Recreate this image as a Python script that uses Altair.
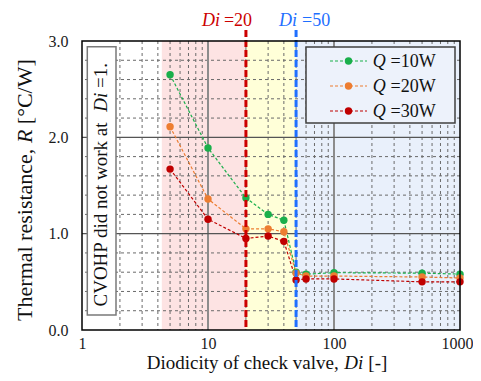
import altair as alt
import pandas as pd

# ---------------- data ----------------
di = [5, 10, 20, 30, 40, 50, 60, 100, 500, 1000]
r_q10 = [2.65, 1.89, 1.37, 1.20, 1.14, 0.60, 0.58, 0.595, 0.59, 0.58]
r_q20 = [2.11, 1.36, 1.05, 1.05, 1.02, 0.59, 0.56, 0.56, 0.55, 0.54]
r_q30 = [1.67, 1.15, 0.95, 0.975, 0.92, 0.52, 0.53, 0.53, 0.50, 0.50]
series_names = ["Q =10W", "Q =20W", "Q =30W"]
series_colors = ["#1aaf4b", "#ed7d31", "#c00000"]

region_start = [4.3, 20, 50]
region_end = [20, 50, 1000]
region_colors = ["#fde3e3", "#ffffd8", "#e9f0fb"]

marker_di = [20, 50]
marker_colors = ["#cc0000", "#1f6fff"]

x_ticks = [1, 10, 100, 1000]
y_ticks = [0, 1, 2, 3]
x_minor = [2, 3, 4, 5, 6, 7, 8, 9, 20, 30, 40, 50, 60, 70, 80, 90,
           200, 300, 400, 500, 600, 700, 800, 900]
x_major = [10, 100]
y_minor = [0.2, 0.4, 0.6, 0.8, 1.2, 1.4, 1.6, 1.8, 2.2, 2.4, 2.6, 2.8]
y_major = [1.0, 2.0]

# ---------------- setup ----------------
W, H = 378, 289
FONT = "Liberation Serif"
xscale = alt.Scale(type="log", domain=[1, 1000])
yscale = alt.Scale(domain=[0, 3])
x_axis = alt.Axis(values=x_ticks, format="d", grid=False, ticks=False, domain=False,
                  labelFont=FONT, labelFontSize=16, labelColor="#1a1a1a",
                  labelPadding=5, title=None, labelFlush=False, labelOverlap=False,
                  labelAlign={"condition": {"test": "datum.value >= 1000", "value": "right"},
                              "value": "center"},
                  labelOffset={"condition": {"test": "datum.value >= 1000", "value": 13},
                               "value": 0})
y_axis = alt.Axis(values=y_ticks, format=".1f", grid=False, ticks=False, domain=False,
                  labelFont=FONT, labelFontSize=16, labelColor="#1a1a1a",
                  labelPadding=14, title=None)

rows = []
for name, vals in zip(series_names, [r_q10, r_q20, r_q30]):
    for d, r in zip(di, vals):
        rows.append({"Di": d, "R": r, "series": name})
df = pd.DataFrame(rows)

regions = pd.DataFrame({"start": region_start, "end": region_end, "color": region_colors})
one = pd.DataFrame({"a": [0]})

color_enc = alt.Color("series:N", scale=alt.Scale(domain=series_names, range=series_colors), legend=None)


def X(field):
    return alt.X(field, scale=xscale, axis=x_axis)


def Y(field):
    return alt.Y(field, scale=yscale, axis=y_axis)


layers = []

# shaded regions
layers.append(
    alt.Chart(regions).mark_rect().encode(
        x=X("start:Q"), x2="end:Q",
        y=alt.Y(datum=0, scale=yscale, axis=y_axis), y2=alt.Y2(datum=3),
        fill=alt.Color("color:N", scale=None),
    )
)

# grid
layers.append(alt.Chart(pd.DataFrame({"x": x_minor})).mark_rule(
    strokeDash=[3, 3], color="#6a6a6a", strokeWidth=1).encode(x=X("x:Q")))
layers.append(alt.Chart(pd.DataFrame({"y": y_minor})).mark_rule(
    strokeDash=[3, 3], color="#6a6a6a", strokeWidth=1).encode(y=Y("y:Q")))
layers.append(alt.Chart(pd.DataFrame({"x": x_major})).mark_rule(
    color="#8c8c8c", strokeWidth=2).encode(x=X("x:Q")))
layers.append(alt.Chart(pd.DataFrame({"y": y_major})).mark_rule(
    color="#555555", strokeWidth=1.2).encode(y=Y("y:Q")))

# annotation box
layers.append(alt.Chart(one).mark_rect(fill="white", stroke="#7a7a7a", strokeWidth=1.5).encode(
    x=alt.value(5.3), x2=alt.value(34), y=alt.value(5.7), y2=alt.value(274)))
box_text = [("CVOHP did not work at", "normal", 265.5), ("Di", "italic", 70.7), ("=1.", "normal", 47)]
for t, style, yy in box_text:
    layers.append(alt.Chart(one).mark_text(
        font=FONT, fontSize=19, fontStyle=style, angle=270, align="left",
        baseline="alphabetic", color="#111111").encode(
        x=alt.value(24.5), y=alt.value(yy), text=alt.value(t)))

# data lines + points
layers.append(alt.Chart(df).mark_line(strokeDash=[3, 2], strokeWidth=1.2).encode(
    x=X("Di:Q"), y=Y("R:Q"), color=color_enc, detail="series:N"))
layers.append(alt.Chart(df).mark_circle(size=55, opacity=1).encode(
    x=X("Di:Q"), y=Y("R:Q"), color=color_enc))

# vertical marker lines and their labels
marker_dx = [(-26, -22), (1, 6)]
for d, c, (dx1, dx2) in zip(marker_di, marker_colors, marker_dx):
    mdf = pd.DataFrame({"x": [d]})
    layers.append(alt.Chart(mdf).mark_rule(strokeWidth=3, strokeDash=[7, 3], color=c).encode(
        x=X("x:Q"), y=alt.value(-11), y2=alt.value(H)))
    layers.append(alt.Chart(mdf).mark_text(font=FONT, fontSize=18, fontStyle="italic", align="right",
                                           baseline="alphabetic", color=c, dx=dx1).encode(
        x=X("x:Q"), y=alt.value(-15), text=alt.value("Di")))
    layers.append(alt.Chart(mdf).mark_text(font=FONT, fontSize=18, align="left",
                                           baseline="alphabetic", color=c, dx=dx2).encode(
        x=X("x:Q"), y=alt.value(-15), text=alt.value("=" + str(d))))

# legend
layers.append(alt.Chart(one).mark_rect(fill="#edf2fb", stroke="#404040", strokeWidth=1.5).encode(
    x=alt.value(224), x2=alt.value(373), y=alt.value(6), y2=alt.value(82)))
for i, (name, c) in enumerate(zip(series_names, series_colors)):
    ldf = pd.DataFrame({"series": [name]})
    yy = 20 + 25 * i
    q, rest = name.split(" ")
    layers.append(alt.Chart(ldf).mark_rule(strokeDash=[3, 2], strokeWidth=1.2, color=c).encode(
        x=alt.value(248), x2=alt.value(285), y=alt.value(yy)))
    layers.append(alt.Chart(ldf).mark_circle(size=55, opacity=1, color=c).encode(
        x=alt.value(266.5), y=alt.value(yy)))
    layers.append(alt.Chart(ldf).mark_text(font=FONT, fontSize=18, fontStyle="italic", align="left",
                                           baseline="middle", dy=1, color="#111111").encode(
        x=alt.value(290.7), y=alt.value(yy), text=alt.value(q)))
    layers.append(alt.Chart(ldf).mark_text(font=FONT, fontSize=18, align="left",
                                           baseline="middle", dy=1, color="#111111").encode(
        x=alt.value(308.5), y=alt.value(yy), text=alt.value(rest)))

# frame
layers.append(alt.Chart(one).mark_rect(fillOpacity=0, stroke="black", strokeWidth=1.5).encode(
    x=alt.value(0), x2=alt.value(W), y=alt.value(0), y2=alt.value(H)))

# axis titles with italic parts
x_title = [("Diodicity of check valve,", "normal", 64.7), ("Di", "italic", 262.3), ("[-]", "normal", 286.3)]
for t, style, xx in x_title:
    layers.append(alt.Chart(one).mark_text(font=FONT, fontSize=19, fontStyle=style, align="left",
                                           baseline="alphabetic", color="#111111").encode(
        x=alt.value(xx), y=alt.value(328), text=alt.value(t)))
y_title = [("Thermal resistance,", "normal", 279.9), ("R", "italic", 102.1), ("[°C/W]", "normal", 83.2)]
for t, style, yy in y_title:
    layers.append(alt.Chart(one).mark_text(font=FONT, fontSize=22, fontStyle=style, angle=270,
                                           align="left", baseline="alphabetic", color="#111111").encode(
        x=alt.value(-50.5), y=alt.value(yy), text=alt.value(t)))

chart = alt.layer(*layers).properties(
    width=W, height=H,
    autosize=alt.AutoSizeParams(type="none"),
    padding={"left": 74, "top": 33, "right": 13, "bottom": 43},
).configure_view(stroke=None)

chart.save("out.html", embed_options={"renderer": "svg", "actions": False})
